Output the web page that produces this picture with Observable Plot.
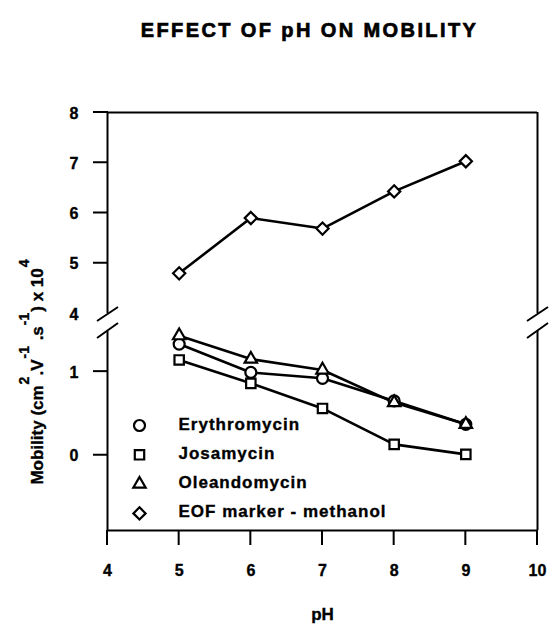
<!DOCTYPE html>
<html><head><meta charset="utf-8">
<script src="https://cdn.jsdelivr.net/npm/d3@7"></script>
<script src="https://cdn.jsdelivr.net/npm/@observablehq/plot@0.6"></script>
<style>body{margin:0;background:#fff} svg{display:block} svg text{stroke:#000;stroke-width:0.35px}</style>
</head><body><div id="chart"></div>
<script>
const titleText = "EFFECT OF pH ON MOBILITY";
const xLabel = "pH";
const pH = [5, 6, 7, 8, 9];
const erythromycin = [1.33, 0.99, 0.92, 0.65, 0.37];
const josamycin = [1.14, 0.86, 0.56, 0.13, 0.01];
const oleandomycin = [1.43, 1.15, 1.02, 0.63, 0.37];
const eofMethanol = [4.80, 5.90, 5.69, 6.43, 7.03];
const seriesNames = ["Erythromycin", "Josamycin", "Oleandomycin", "EOF marker - methanol"];
const seriesSymbols = ["circle", "square", "triangle", "diamond2"];
const seriesValues = [erythromycin, josamycin, oleandomycin, eofMethanol];
const xTicks = [4, 5, 6, 7, 8, 9, 10];
const yTicks = [0, 1, 5, 6, 7, 8];
const yLabelTicks = [0, 1, 4, 5, 6, 7, 8];
const yDomain = [-0.9, 1.48, 4, 8];

const symbolRadius = {circle: 5.5, square: 5.3, triangle: 4.6, diamond2: 5.5};

const series = seriesNames.map((name, i) => ({
  name, symbol: seriesSymbols[i],
  rows: pH.map((p, j) => ({pH: p, value: seriesValues[i][j], name}))
}));

const breakSymbol = {
  draw(ctx) {
    ctx.moveTo(-10.5, -1.5); ctx.lineTo(10.5, -15.5);
    ctx.moveTo(-10.5, 15.5); ctx.lineTo(10.5, 0.5);
  }
};

const font = "'Liberation Sans', Arial, Helvetica, sans-serif";

const marks = [];
// tick labels
marks.push(Plot.text(xTicks, {x: d => d, y: () => yDomain[0], dy: 40, text: d => String(d), fontSize: 16, fontWeight: "bold"}));
marks.push(Plot.text(yLabelTicks, {x: () => 4, y: d => d, dx: -29, dy: 1, text: d => String(d), textAnchor: "end", fontSize: 16, fontWeight: "bold"}));
// frame
marks.push(Plot.ruleY([yDomain[0]], {x1: 4, x2: 10, strokeWidth: 2}));
marks.push(Plot.ruleY([yDomain[3]], {x1: 4, x2: 10, strokeWidth: 2}));
marks.push(Plot.ruleX([4, 10], {y1: yDomain[0], y2: yDomain[1], strokeWidth: 2}));
marks.push(Plot.ruleX([4, 10], {y1: yDomain[2], y2: yDomain[3], strokeWidth: 2}));
// axis break slashes
marks.push(Plot.dot([4, 10], {x: d => d, y: () => yDomain[2], dy: 9, symbol: breakSymbol, stroke: "black", strokeWidth: 2, fill: "none"}));
// series
series.forEach(s => {
  marks.push(Plot.line(s.rows, {x: "pH", y: "value", stroke: "black", strokeWidth: 2.6}));
});
series.forEach(s => {
  marks.push(Plot.dot(s.rows, {x: "pH", y: "value", symbol: s.symbol, r: symbolRadius[s.symbol], stroke: "black", strokeWidth: 2.2, fill: "white"}));
});
// legend
series.forEach((s, i) => {
  const dy = -105 + i * 29.3;
  marks.push(Plot.dot([s.name], {frameAnchor: "bottom-left", dx: 32, dy, symbol: s.symbol, r: symbolRadius[s.symbol], stroke: "black", strokeWidth: 2.2, fill: "white"}));
  marks.push(Plot.text([s.name], {frameAnchor: "bottom-left", dx: 71, dy: dy + 4, text: d => d, textAnchor: "start", fontSize: 17, fontWeight: "bold"}));
});
// title and x label
marks.push(Plot.text([titleText], {frameAnchor: "top", dx: -13, dy: -90, text: d => d, fontSize: 20, fontWeight: "bold"}));
marks.push(Plot.text([xLabel], {frameAnchor: "bottom", dy: 89, text: d => d, fontSize: 17, fontWeight: "bold"}));

const chart = Plot.plot({
  width: 549, height: 628,
  marginLeft: 107, marginRight: 12, marginTop: 112, marginBottom: 98,
  style: {fontFamily: font, fontWeight: "bold", fontSize: "16px", background: "white", color: "black"},
  x: {domain: [4, 10], axis: null},
  y: {type: "linear", domain: yDomain, range: [530, 331, 313, 112], axis: null},
  marks
});
document.getElementById("chart").appendChild(chart);

const svg = d3.select(chart);
svg.selectAll("text").filter(function () { return this.textContent === titleText; })
  .style("letter-spacing", "2.4px").style("stroke-width", "0.7px");
svg.selectAll("text").filter(function () { return seriesNames.includes(this.textContent); })
  .style("letter-spacing", "1px");

// outward tick marks as filled bars, positioned through Plot's scales
const xs = chart.scale("x"), ys = chart.scale("y");
const fx = d3.scaleLinear().domain(xs.domain).range(xs.range);
const fy = d3.scaleLinear().domain(ys.domain).range(ys.range);
const px = v => { const a = xs.apply ? xs.apply(v) : NaN; return Number.isFinite(a) ? a : fx(v); };
const py = v => { const a = ys.apply ? ys.apply(v) : NaN; return Number.isFinite(a) ? a : fy(v); };
const tg = svg.append("g").attr("fill", "black");
const xl = px(4), yb = py(yDomain[0]);
yTicks.forEach(t => {
  tg.append("rect").attr("x", xl - 14).attr("y", py(t) - 1).attr("width", 15).attr("height", 2);
});
xTicks.forEach(t => {
  tg.append("rect").attr("x", px(t) - 1).attr("y", yb).attr("width", 2).attr("height", 15);
});

// y axis label with superscripts
const yl = svg.append("text")
  .attr("transform", "translate(43,372) rotate(-90)")
  .attr("text-anchor", "middle")
  .attr("font-size", 17).attr("font-weight", "bold").attr("fill", "black");
const parts = [["Mobility (cm", false], ["2", true], [".V", false], ["-1", true], [" .s", false], ["-1", true], [") x 10", false], ["4", true]];
parts.forEach(([t, sup], i) => {
  const ts = yl.append("tspan").text(t);
  if (sup) ts.attr("font-size", 14).attr("dy", -14).attr("dx", 1);
  else if (i > 0) ts.attr("dy", 14).attr("dx", 1);
});
</script></body></html>
